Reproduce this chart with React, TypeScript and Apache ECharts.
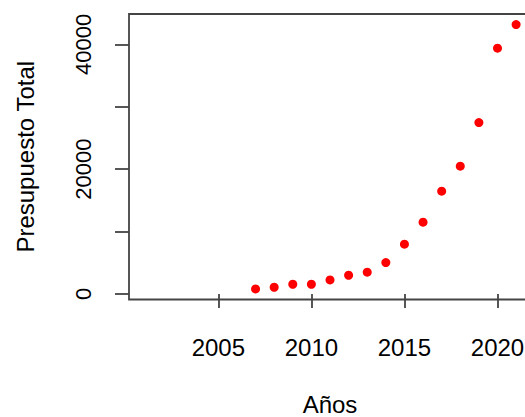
import React, { useEffect, useRef } from "react";
import * as echarts from "echarts";

const years = [2007, 2008, 2009, 2010, 2011, 2012, 2013, 2014, 2015, 2016, 2017, 2018, 2019, 2020, 2021];
const presupuesto = [800, 1070, 1550, 1550, 2245, 2990, 3480, 5020, 7970, 11500, 16470, 20480, 27470, 39400, 43190];
const xTicks = [2005, 2010, 2015, 2020];
const yTicks = [0, 10000, 20000, 30000, 40000];
const yLabels = [0, 20000, 40000];

export default function App() {
  const ref = useRef<HTMLDivElement>(null);
  useEffect(() => {
    if (!ref.current) return;
    const chart = echarts.init(ref.current, null, { renderer: "svg" });
    const font = "'Liberation Sans', Arial, sans-serif";
    const lineColor = "#444";
    chart.setOption({
      animation: false,
      backgroundColor: "#ffffff",
      grid: {
        left: 129,
        top: 14,
        width: 402,
        height: 285.5,
        show: true,
        borderColor: lineColor,
        borderWidth: 1.8,
        backgroundColor: "transparent",
        containLabel: false,
        outerBoundsMode: "none",
      },
      xAxis: {
        type: "value",
        min: 2000.2,
        max: 2021.8,
        name: "Años",
        nameLocation: "middle",
        nameGap: 93,
        nameTextStyle: { fontFamily: font, fontSize: 24, color: "#000" },
        axisLine: { show: false },
        splitLine: { show: false },
        axisTick: {
          show: true,
          length: 14,
          customValues: xTicks,
          lineStyle: { color: lineColor, width: 1.8 },
        },
        axisLabel: {
          customValues: xTicks,
          margin: 36,
          fontFamily: font,
          fontSize: 24,
          color: "#000",
          formatter: (v: number) => String(v),
        },
      },
      yAxis: {
        type: "value",
        min: -896,
        max: 44886,
        name: "Presupuesto Total",
        nameLocation: "middle",
        nameRotate: 90,
        nameGap: 92,
        nameTextStyle: { fontFamily: font, fontSize: 24, color: "#000" },
        axisLine: { show: false },
        splitLine: { show: false },
        axisTick: {
          show: true,
          length: 14,
          customValues: yTicks,
          lineStyle: { color: lineColor, width: 1.8 },
        },
        axisLabel: {
          customValues: yLabels,
          rotate: 90,
          margin: 35,
          fontFamily: font,
          fontSize: 22,
          color: "#000",
          formatter: (v: number) => String(v),
        },
      },
      series: [
        {
          type: "scatter",
          data: years.map((y, i) => [y, presupuesto[i]]),
          symbol: "circle",
          symbolSize: 9,
          itemStyle: { color: "#ff0000", opacity: 1 },
          clip: false,
        },
      ],
    });
    return () => chart.dispose();
  }, []);
  return (
    <div
      ref={ref}
      style={{ position: "fixed", left: 0, top: 0, width: 525, height: 417, background: "#fff" }}
    />
  );
}
